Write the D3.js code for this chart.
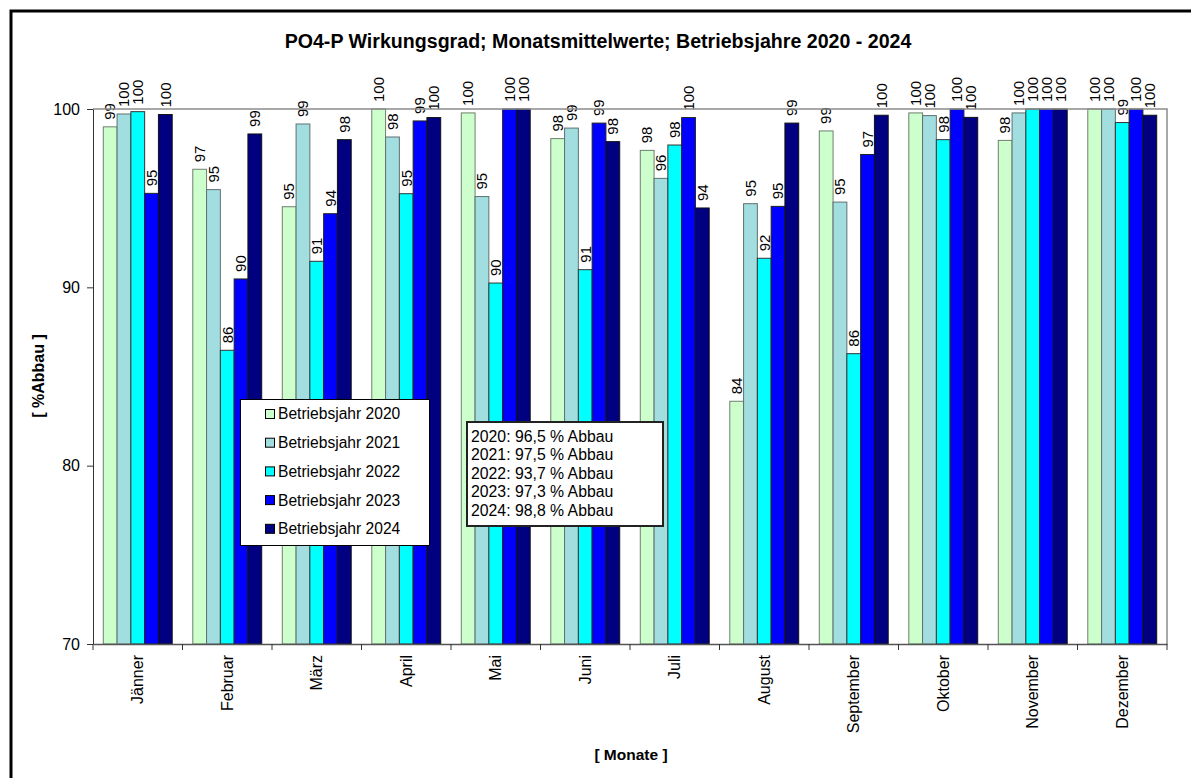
<!DOCTYPE html>
<html lang="de">
<head>
    <meta charset="UTF-8">
    <title>PO4-P Wirkungsgrad</title>
    <script src="https://d3js.org/d3.v7.min.js"></script>
    <style>
        body {
            margin: 0;
            background-color: #fff;
        }
        svg {
            display: block;
        }
        text {
            font-family: Arial, "Liberation Sans", sans-serif;
            fill: #000;
        }
        .axis text {
            font-size: 16px;
        }
        .bold {
            font-weight: bold;
        }
    </style>
</head>
<body>
    <svg width="1191" height="778"></svg>
    <script>
        // Daten
        const months = ["Jänner", "Februar", "März", "April", "Mai", "Juni", "Juli",
            "August", "September", "Oktober", "November", "Dezember"];
        const years = ["2020", "2021", "2022", "2023", "2024"];
        const v2020 = [99.0, 96.62, 94.52, 100, 99.78, 98.34, 97.68, 83.61, 98.77, 99.78, 98.24, 100];
        const v2021 = [99.72, 95.48, 99.16, 98.43, 95.09, 98.93, 96.11, 94.69, 94.78, 99.63, 99.78, 100];
        const v2022 = [99.85, 86.47, 91.46, 95.25, 90.24, 90.99, 97.98, 91.63, 86.28, 98.28, 100, 99.24];
        const v2023 = [95.27, 90.47, 94.13, 99.33, 100, 99.21, 99.52, 94.54, 97.45, 100, 100, 100];
        const v2024 = [99.69, 98.6, 98.28, 99.52, 100, 98.17, 94.45, 99.21, 99.65, 99.53, 100, 99.65];
        const yTicks = [70, 80, 90, 100];
        const averages = ["2020: 96,5 % Abbau", "2021: 97,5 % Abbau", "2022: 93,7 % Abbau",
            "2023: 97,3 % Abbau", "2024: 98,8 % Abbau"];

        const series = [v2020, v2021, v2022, v2023, v2024];
        const colors = ["#CCFFCC", "#A2DEDF", "#00FFFF", "#0000FF", "#000080"];
        const strokes = ["#6f7f6f", "#5f7070", "#333", "#222", "#111"];

        const svg = d3.select("svg");
        const margin = {left: 93, right: 1167, top: 109, bottom: 644};

        // Rahmen
        svg.append("rect")
            .attr("x", 11).attr("y", 11)
            .attr("width", 1300).attr("height", 900)
            .attr("fill", "none")
            .attr("stroke", "#000")
            .attr("stroke-width", 3);

        const x0 = d3.scaleBand()
            .domain(months)
            .range([margin.left, margin.right])
            .paddingInner(0.23)
            .paddingOuter(0.115);
        const x1 = d3.scaleBand()
            .domain(years)
            .range([0, x0.bandwidth()]);
        const y = d3.scaleLinear()
            .domain([70, 100])
            .range([margin.bottom, margin.top]);

        // Balken
        const groups = svg.append("g")
            .selectAll("g")
            .data(months)
            .join("g")
            .attr("transform", d => `translate(${x0(d)},0)`);

        const bars = groups.selectAll("g")
            .data((m, i) => years.map((yr, k) => ({year: yr, k: k, value: series[k][i]})))
            .join("g");

        bars.append("rect")
            .attr("x", d => x1(d.year))
            .attr("y", d => y(d.value))
            .attr("width", x1.bandwidth())
            .attr("height", d => y(70) - y(d.value))
            .attr("fill", d => colors[d.k])
            .attr("stroke", d => strokes[d.k])
            .attr("stroke-width", 1);

        bars.append("text")
            .attr("transform", d => `translate(${x1(d.year) + x1.bandwidth() / 2},${y(d.value) - 7}) rotate(-90)`)
            .attr("dy", "0.35em")
            .style("font-size", "15px")
            .text(d => Math.round(d.value));

        // Rand oben / rechts
        svg.append("path")
            .attr("d", `M${margin.left},${margin.top}H${margin.right}V${margin.bottom}`)
            .attr("fill", "none")
            .attr("stroke", "#8c8c8c")
            .attr("stroke-width", 1.5);

        // Y-Achse
        const yAxis = svg.append("g")
            .attr("class", "axis")
            .attr("transform", `translate(${margin.left},0)`)
            .call(d3.axisLeft(y).tickValues(yTicks).tickSize(6).tickSizeOuter(0).tickPadding(7));
        yAxis.selectAll("path, line").attr("stroke", "#333");
        yAxis.selectAll("text").style("font-family", "Arial, 'Liberation Sans', sans-serif");

        // X-Achse
        const xAxis = svg.append("g")
            .attr("class", "axis")
            .attr("transform", `translate(0,${margin.bottom})`)
            .call(d3.axisBottom(x0).tickSize(0).tickSizeOuter(0));
        xAxis.select(".domain").attr("stroke", "#555").attr("stroke-width", 1.5);
        xAxis.selectAll(".tick text")
            .attr("transform", "translate(0,11) rotate(-90)")
            .attr("x", 0).attr("y", 0)
            .attr("dy", "0.35em")
            .attr("text-anchor", "end")
            .style("font-family", "Arial, 'Liberation Sans', sans-serif");
        const step = x0.step();
        svg.append("g")
            .selectAll("line")
            .data(d3.range(months.length + 1))
            .join("line")
            .attr("x1", i => margin.left + i * step)
            .attr("x2", i => margin.left + i * step)
            .attr("y1", margin.bottom)
            .attr("y2", margin.bottom + 6)
            .attr("stroke", "#333");

        // Titel
        svg.append("text")
            .attr("class", "bold")
            .attr("x", 598).attr("y", 48)
            .attr("text-anchor", "middle")
            .style("font-size", "19.6px")
            .text("PO4-P Wirkungsgrad; Monatsmittelwerte; Betriebsjahre 2020 - 2024");

        svg.append("text")
            .attr("class", "bold")
            .attr("transform", "translate(38,376) rotate(-90)")
            .attr("text-anchor", "middle")
            .attr("dy", "0.35em")
            .style("font-size", "16px")
            .text("[ %Abbau ]");

        svg.append("text")
            .attr("class", "bold")
            .attr("x", 631).attr("y", 755)
            .attr("text-anchor", "middle")
            .attr("dy", "0.35em")
            .style("font-size", "15.5px")
            .text("[ Monate ]");

        // Legende
        const legend = svg.append("g");
        legend.append("rect")
            .attr("x", 240.5).attr("y", 399.5)
            .attr("width", 189).attr("height", 146)
            .attr("fill", "#fff")
            .attr("stroke", "#000");
        const item = legend.selectAll("g")
            .data(years)
            .join("g")
            .attr("transform", (d, i) => `translate(265,${414 + i * 28.7})`);
        item.append("rect")
            .attr("x", 0.5).attr("y", -4.5)
            .attr("width", 9).attr("height", 9)
            .attr("fill", (d, i) => colors[i])
            .attr("stroke", "#000");
        item.append("text")
            .attr("x", 13)
            .attr("dy", "0.35em")
            .style("font-size", "15.6px")
            .text(d => "Betriebsjahr " + d);

        // Jahresmittel
        const box = svg.append("g");
        box.append("rect")
            .attr("x", 467).attr("y", 422)
            .attr("width", 196).attr("height", 104)
            .attr("fill", "#fff")
            .attr("stroke", "#222")
            .attr("stroke-width", 2);
        box.selectAll("text")
            .data(averages)
            .join("text")
            .attr("x", 471)
            .attr("y", (d, i) => 436 + i * 18.6)
            .attr("dy", "0.35em")
            .style("font-size", "15.8px")
            .text(d => d);
    </script>
</body>
</html>
